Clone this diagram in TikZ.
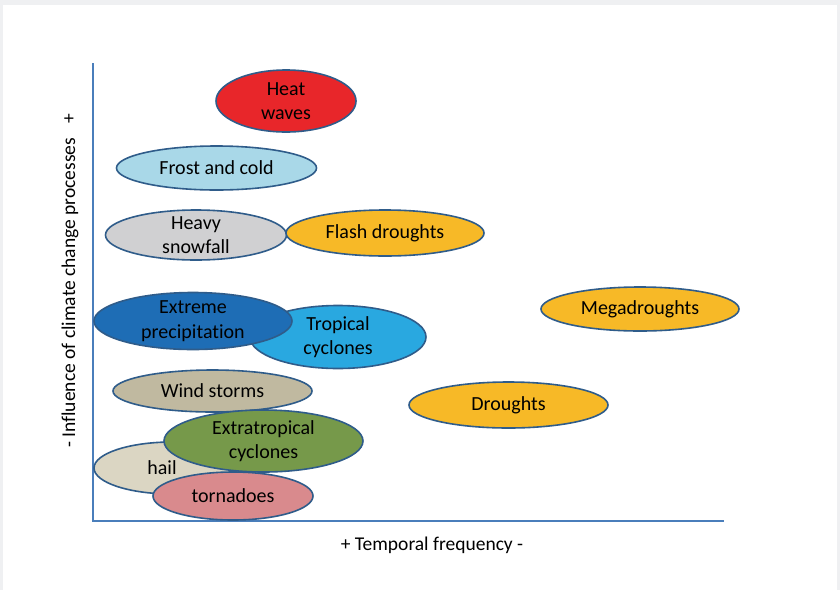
\documentclass[tikz,border=0pt]{standalone}
\usepackage{fontspec}
\setmainfont{Carlito}[Ligatures={NoCommon}]
\usetikzlibrary{shapes.geometric}
\definecolor{bggray}{HTML}{EFF0F2}
\definecolor{axisblue}{HTML}{4A7EBB}
\definecolor{outl}{HTML}{2F5C8A}
\definecolor{cheat}{HTML}{E8262A}
\definecolor{cfrost}{HTML}{A9D8E8}
\definecolor{csnow}{HTML}{D0D0D2}
\definecolor{cdrought}{HTML}{F7B927}
\definecolor{cextreme}{HTML}{1E6DB5}
\definecolor{ctropical}{HTML}{29A8E0}
\definecolor{cwind}{HTML}{C0B9A0}
\definecolor{cextra}{HTML}{76994A}
\definecolor{chail}{HTML}{DBD6C3}
\definecolor{ctorn}{HTML}{D98A8D}
\tikzset{
  ev/.style={ellipse, draw=outl, line width=1.6pt, inner sep=0pt},
  lbl/.style={align=center, inner sep=0pt, font=\fontsize{20}{24.5}\selectfont},
  axislbl/.style={inner sep=0pt, font=\fontsize{19.5}{22}\selectfont},
  axisline/.style={draw=axisblue, line width=1.3pt}
}
\begin{document}
\begin{tikzpicture}[x=1pt,y=-1pt]
\useasboundingbox (0,0) rectangle (840,590);
\fill[bggray] (0,0) rectangle (840,590);
\fill[white] (3,5) rectangle (837,590);
% axes
\coordinate (ytop) at (93,63);
\coordinate (orig) at (93,521);
\coordinate (xend) at (724,521);
\draw[axisline] (ytop) -- (orig) -- (xend);
% events
\node[ev, fill=cheat, minimum width=140pt, minimum height=62pt] (hw) at (286,101) {};
\node[lbl] (hwt) at (hw) {Heat\\waves};
\node[ev, fill=cfrost, minimum width=200pt, minimum height=44pt] (fc) at (216.5,168) {};
\node[lbl] (fct) at (fc) {Frost and cold};
\node[ev, fill=csnow, minimum width=181pt, minimum height=50pt] (hs) at (196,235) {};
\node[lbl] (hst) at (hs) {Heavy\\snowfall};
\node[ev, fill=cdrought, minimum width=198pt, minimum height=46pt] (fd) at (385,233) {};
\node[lbl] (fdt) at (fd) {Flash droughts};
\node[ev, fill=ctropical, minimum width=176pt, minimum height=63pt] (tc) at (338,337) {};
\node[lbl] (tct) at (tc) {Tropical\\cyclones};
\node[ev, fill=cextreme, minimum width=198pt, minimum height=57pt] (ep) at (193,321) {};
\node[lbl] (ept) at (ep) {Extreme\\precipitation};
\node[ev, fill=cdrought, minimum width=198pt, minimum height=44pt] (md) at (640,309) {};
\node[lbl] (mdt) at (md) {Megadroughts};
\node[ev, fill=cwind, minimum width=199pt, minimum height=42pt] (ws) at (212.5,391) {};
\node[lbl] (wst) at (ws) {Wind storms};
\node[ev, fill=cdrought, minimum width=199pt, minimum height=46pt] (dr) at (508.5,405) {};
\node[lbl] (drt) at (dr) {Droughts};
\node[ev, fill=chail, minimum width=156pt, minimum height=52pt] (ha) at (172,468) {};
\node[lbl] (hat) at (162,468) {hail};
\node[ev, fill=cextra, minimum width=199pt, minimum height=62pt] (ec) at (263.5,441) {};
\node[lbl] (ect) at (ec) {Extratropical\\cyclones};
\node[ev, fill=ctorn, minimum width=160pt, minimum height=48pt] (to) at (233,496) {};
\node[lbl] (tot) at (to) {tornadoes};
% axis labels
\node[axislbl, rotate=90] (ylab) at (70,281) {- Influence of climate change processes\hspace{14pt}+};
\node[axislbl] (xlab) at (432,545) {+ Temporal frequency -};
\end{tikzpicture}
\end{document}
